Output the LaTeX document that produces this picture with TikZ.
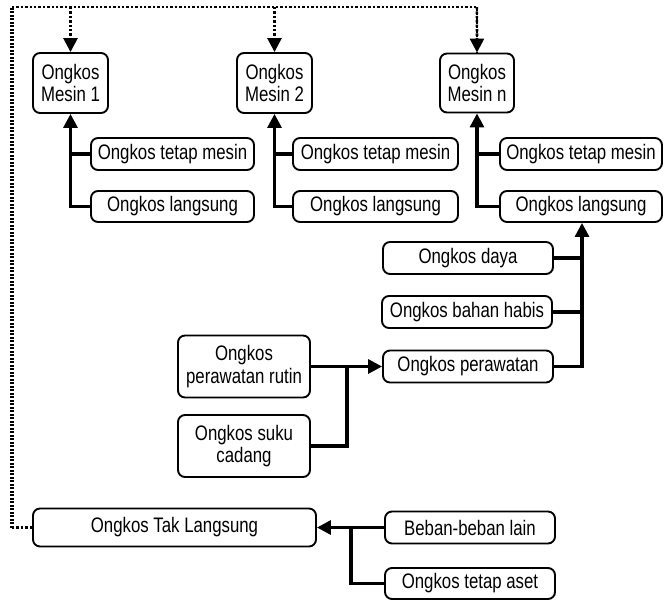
\documentclass[tikz,border=0pt]{standalone}
\usepackage{fontspec}
\setmainfont{Liberation Sans}[FakeStretch=0.8]
\usetikzlibrary{arrows.meta}

\begin{document}
\begin{tikzpicture}[x=1pt,y=-1pt,
  box/.style={draw, line width=1.9pt, rounded corners=7pt, inner sep=0pt,
    align=center, font=\fontsize{21}{22.5}\selectfont},
  conn/.style={line width=3.2pt},
  tip/.style={-{Triangle[width=14pt,length=14pt]}},
  dotline/.style={line width=2.6pt, dash pattern=on 2.4pt off 2pt},
  dotthick/.style={line width=3.6pt, dash pattern=on 2pt off 1.5pt},
]
\useasboundingbox (0,0) rectangle (664,600);

% machine cost boxes
\node[box, minimum width=75pt, minimum height=60pt] (m1) at (70.5,83) {Ongkos\\Mesin 1};
\node[box, minimum width=75pt, minimum height=60pt] (m2) at (274.5,83) {Ongkos\\Mesin 2};
\node[box, minimum width=74pt, minimum height=59pt] (mn) at (477,83) {Ongkos\\Mesin n};

% components of each machine cost
\node[box, minimum width=163pt, minimum height=32pt] (t1) at (172.5,154) {Ongkos tetap mesin};
\node[box, minimum width=163pt, minimum height=31pt] (l1) at (172.5,206.5) {Ongkos langsung};
\node[box, minimum width=165pt, minimum height=32pt] (t2) at (375.5,154) {Ongkos tetap mesin};
\node[box, minimum width=165pt, minimum height=31pt] (l2) at (375.5,206.5) {Ongkos langsung};
\node[box, minimum width=162pt, minimum height=32pt] (tn) at (581,154) {Ongkos tetap mesin};
\node[box, minimum width=162pt, minimum height=31pt] (ln) at (581,206.5) {Ongkos langsung};

% direct cost components
\node[box, minimum width=170pt, minimum height=32pt] (daya) at (468,258) {Ongkos daya};
\node[box, minimum width=170pt, minimum height=32pt] (bahan) at (467,312) {Ongkos bahan habis};
\node[box, minimum width=170pt, minimum height=32pt] (prw) at (468,366.5) {Ongkos perawatan};

% maintenance components
\node[box, minimum width=132pt, minimum height=62pt] (rutin) at (244,366.5) {Ongkos\\perawatan rutin};
\node[box, minimum width=132pt, minimum height=62pt] (suku) at (244,446) {Ongkos suku\\cadang};

% indirect costs
\node[box, minimum width=283pt, minimum height=38pt] (tak) at (174.5,527.5) {Ongkos Tak Langsung};
\node[box, minimum width=170pt, minimum height=32pt] (beban) at (470,527.5) {Beban-beban lain};
\node[box, minimum width=170pt, minimum height=31pt] (aset) at (470,583.5) {Ongkos tetap aset};

% junction points
\coordinate (jd) at (582,366.5);
\coordinate (jr) at (347,366.5);
\coordinate (jb) at (351,527.5);
\coordinate (corner) at (12,7);
\coordinate (lowcorner) at (12,527.5);

% machine cost trees
\draw[conn, tip] (l1.west) -| (m1.south);
\draw[conn] (t1.west) -- (t1.west -| m1.south);
\draw[conn, tip] (l2.west) -| (m2.south);
\draw[conn] (t2.west) -- (t2.west -| m2.south);
\draw[conn, tip] (ln.west) -| (mn.south);
\draw[conn] (tn.west) -- (tn.west -| mn.south);

% direct cost tree
\draw[conn, tip] (prw.east) -- (jd) -- (ln.south -| jd);
\draw[conn] (daya.east) -- (daya.east -| jd);
\draw[conn] (bahan.east) -- (bahan.east -| jd);

% maintenance tree
\draw[conn, tip] (rutin.east) -- (prw.west);
\draw[conn] (suku.east) -| (jr);

% indirect cost tree
\draw[conn, tip] (beban.west) -- (tak.east);
\draw[conn] (aset.west) -| (jb);

% indirect cost spread over all machines
\draw[dotline] (tak.west) -- (lowcorner);
\draw[dotthick] (lowcorner) -- (corner);
\draw[dotline] (corner) -| (mn.north);
\draw[dotline, tip] (corner -| m1.north) -- (m1.north);
\draw[dotline, tip] (corner -| m2.north) -- (m2.north);
\draw[dotline, tip] ([xshift=-0.1pt]corner -| mn.north) -- (mn.north);
\end{tikzpicture}
\end{document}
